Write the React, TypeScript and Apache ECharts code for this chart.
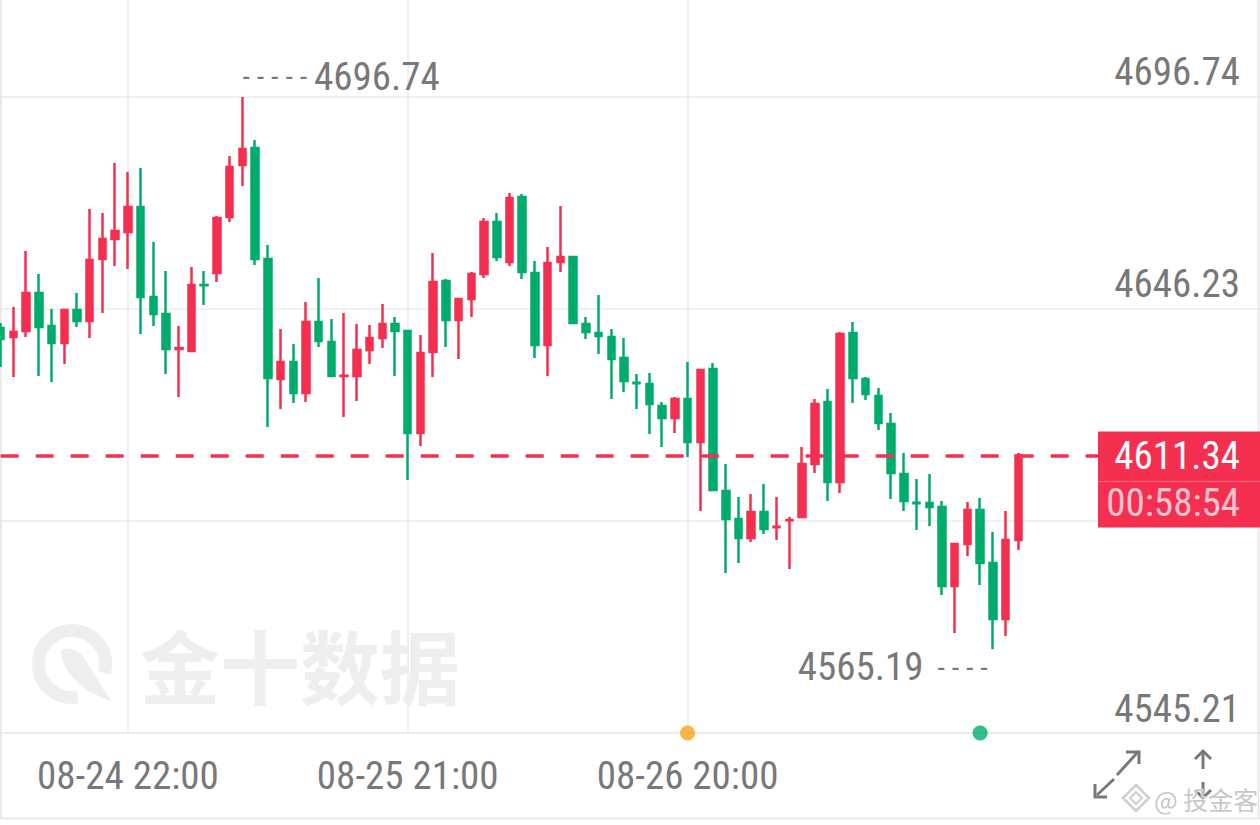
import React, { useEffect, useRef } from "react";
import * as echarts from "echarts";

// ---------- data ----------
const categories: string[] = [
  "08-24 12:00", "08-24 13:00", "08-24 14:00", "08-24 15:00", "08-24 16:00", "08-24 17:00",
  "08-24 18:00", "08-24 19:00", "08-24 20:00", "08-24 21:00", "08-24 22:00", "08-24 23:00",
  "08-25 00:00", "08-25 01:00", "08-25 02:00", "08-25 03:00", "08-25 04:00",
  "08-25 06:00", "08-25 07:00", "08-25 08:00", "08-25 09:00", "08-25 10:00", "08-25 11:00",
  "08-25 12:00", "08-25 13:00", "08-25 14:00", "08-25 15:00", "08-25 16:00", "08-25 17:00",
  "08-25 18:00", "08-25 19:00", "08-25 20:00", "08-25 21:00", "08-25 22:00", "08-25 23:00",
  "08-26 00:00", "08-26 01:00", "08-26 02:00", "08-26 03:00", "08-26 04:00",
  "08-26 06:00", "08-26 07:00", "08-26 08:00", "08-26 09:00", "08-26 10:00", "08-26 11:00",
  "08-26 12:00", "08-26 13:00", "08-26 14:00", "08-26 15:00", "08-26 16:00", "08-26 17:00",
  "08-26 18:00", "08-26 19:00", "08-26 20:00", "08-26 21:00", "08-26 22:00", "08-26 23:00",
  "08-27 00:00", "08-27 01:00", "08-27 02:00", "08-27 03:00", "08-27 04:00",
  "08-27 06:00", "08-27 07:00", "08-27 08:00", "08-27 09:00", "08-27 10:00", "08-27 11:00",
  "08-27 12:00", "08-27 13:00", "08-27 14:00", "08-27 15:00", "08-27 16:00", "08-27 17:00",
  "08-27 18:00", "08-27 19:00", "08-27 20:00", "08-27 21:00", "08-27 22:00", "08-27 23:00",
];

// [open, close, low, high]
const opens: number[] = [
  4641.70, 4639.56, 4640.99, 4650.04, 4642.18, 4638.13, 4645.99, 4643.37, 4658.14, 4662.91,
  4664.58, 4670.53, 4649.09, 4645.04, 4636.70, 4636.22, 4651.95, 4654.81, 4668.15, 4680.54,
  4684.59, 4658.14, 4629.55, 4633.60, 4626.22, 4643.13, 4638.37, 4630.27, 4630.27, 4636.46,
  4639.32, 4642.66, 4640.99, 4616.69, 4635.98, 4652.90, 4643.61, 4648.61, 4654.57, 4666.96,
  4657.43, 4672.91, 4654.81, 4637.65, 4657.43, 4658.62, 4642.66, 4640.51, 4639.56, 4634.56,
  4628.65, 4628.36, 4623.12, 4620.26, 4624.79, 4614.54, 4631.93, 4602.87, 4596.20, 4591.67,
  4597.86, 4594.25, 4595.90, 4596.67, 4609.30, 4624.07, 4605.01, 4640.51, 4629.55, 4625.50,
  4618.83, 4606.92, 4600.05, 4600.01, 4599.06, 4580.23, 4590.24, 4598.34, 4585.71, 4572.37,
  4591.19,
];
const closes: number[] = [
  4639.08, 4640.75, 4650.04, 4641.94, 4638.13, 4645.99, 4643.37, 4657.90, 4662.91, 4664.81,
  4670.53, 4649.09, 4645.04, 4636.70, 4636.94, 4651.95, 4651.90, 4667.91, 4680.06, 4684.35,
  4658.14, 4629.79, 4633.60, 4626.22, 4643.13, 4638.61, 4630.27, 4630.35, 4636.46, 4639.32,
  4642.66, 4640.99, 4616.69, 4635.75, 4652.66, 4643.61, 4648.61, 4654.57, 4666.96, 4658.62,
  4672.68, 4655.04, 4637.65, 4657.19, 4658.62, 4642.89, 4640.75, 4639.80, 4634.32, 4629.08,
  4628.55, 4623.60, 4620.26, 4624.79, 4614.54, 4631.70, 4603.11, 4596.20, 4591.67, 4597.86,
  4593.81, 4594.33, 4595.96, 4609.30, 4623.60, 4605.01, 4640.27, 4629.79, 4625.98, 4619.07,
  4607.16, 4600.48, 4599.97, 4599.06, 4580.23, 4590.24, 4598.34, 4585.71, 4572.37, 4591.19,
  4611.34,
];
const lows: number[] = [
  4632.41, 4630.03, 4639.56, 4630.27, 4628.84, 4633.13, 4641.94, 4639.32, 4645.28, 4656.47,
  4655.76, 4640.27, 4642.18, 4630.74, 4625.26, 4635.98, 4647.18, 4652.66, 4666.96, 4675.53,
  4656.71, 4618.12, 4622.40, 4623.83, 4624.07, 4637.18, 4630.03, 4620.50, 4624.31, 4633.13,
  4636.94, 4630.27, 4605.49, 4613.59, 4630.03, 4637.18, 4634.32, 4644.32, 4653.62, 4657.67,
  4656.47, 4653.38, 4634.56, 4630.27, 4655.04, 4642.80, 4639.08, 4635.51, 4624.79, 4626.45,
  4622.40, 4616.45, 4613.35, 4616.69, 4610.97, 4598.10, 4603.00, 4583.33, 4585.71, 4590.72,
  4592.62, 4591.19, 4584.28, 4596.60, 4607.16, 4600.48, 4602.39, 4623.83, 4624.55, 4617.40,
  4600.96, 4598.10, 4593.58, 4594.53, 4578.09, 4569.04, 4587.38, 4580.47, 4565.19, 4568.32,
  4588.81,
];
const highs: number[] = [
  4642.89, 4646.71, 4660.05, 4654.57, 4646.23, 4646.10, 4650.04, 4670.06, 4669.10, 4681.01,
  4678.87, 4679.82, 4662.19, 4655.28, 4642.18, 4656.24, 4655.28, 4668.39, 4682.68, 4696.74,
  4686.49, 4661.48, 4641.46, 4637.89, 4647.90, 4653.62, 4643.85, 4645.28, 4642.66, 4642.42,
  4647.42, 4644.32, 4641.23, 4640.04, 4659.57, 4653.38, 4648.70, 4655.04, 4667.91, 4669.10,
  4673.87, 4673.63, 4657.67, 4661.00, 4670.77, 4658.86, 4644.32, 4649.57, 4641.46, 4639.32,
  4630.74, 4630.98, 4624.07, 4625.26, 4633.60, 4631.93, 4633.36, 4609.30, 4601.44, 4602.15,
  4604.54, 4601.44, 4596.67, 4613.35, 4624.79, 4627.17, 4640.75, 4643.13, 4630.03, 4627.41,
  4621.45, 4611.92, 4605.73, 4606.92, 4600.48, 4590.48, 4600.25, 4601.20, 4593.10, 4598.10,
  4611.90,
];

const yTicksMin = 4545.21;
const yTickStep = 50.51;
const yAxisMax = 4719.85;
const shownTimeLabels: string[] = ["08-24 22:00", "08-25 21:00", "08-26 20:00"];
const countdownText = "00:58:54";
const events = [
  { time: "08-26 20:00", color: "#f7a21b" },
  { time: "08-27 20:00", color: "#00ac6c" },
];

// ---------- style ----------
const RED = "#f52f50";
const GREEN = "#00ac6c";
const GREY = "#787878";
const GRID = "#ebebeb";
const NUM_FONT = "'Liberation Sans Narrow', 'Roboto Condensed', Roboto, sans-serif";
const NUM_SIZE = 39;

const lastPrice = closes[closes.length - 1];

echarts.graphic.registerShape(
  "jinLeaf",
  echarts.graphic.extendPath(
    "M0 0 C6 -4 16 0 22 8 L50 52 L28 42 C18 36 6 24 2 14 C0 8 -2 3 0 0 Z",
    {}
  )
);

const richStyles = {
  d: { fontSize: 30, fontFamily: NUM_FONT, color: GREY },
  n: { fontSize: NUM_SIZE, fontFamily: NUM_FONT, color: GREY },
};

export default function App() {
  const ref = useRef<HTMLDivElement>(null);
  useEffect(() => {
    if (!ref.current) return;
    const chart = echarts.init(ref.current, undefined, { renderer: "svg" });
    const candleData = opens.map((o, i) => [o, closes[i], lows[i], highs[i]]);

    const staticGraphics: any[] = [
      // frame
      {
        type: "polyline",
        z: 1,
        silent: true,
        shape: { points: [[1, -2], [1, 818.5], [1258.5, 818.5], [1258.5, -2]] },
        style: { stroke: "#e4e4e4", lineWidth: 1.5, fill: null },
      },
      // 金十数据 watermark
      {
        type: "arc",
        z: 0,
        silent: true,
        shape: { cx: 72, cy: 664, r: 33.5, startAngle: (80 * Math.PI) / 180, endAngle: (375 * Math.PI) / 180, clockwise: true },
        style: { stroke: "#eeeeee", lineWidth: 13, fill: null },
      },
      {
        type: "jinLeaf",
        z: 0,
        silent: true,
        x: 62,
        y: 650,
        style: { fill: "#eeeeee" },
      },
      {
        type: "text",
        z: 0,
        silent: true,
        x: 140,
        y: 663,
        style: {
          text: "金十数据",
          fill: "#eeeeee",
          fontFamily: "Noto Sans CJK SC",
          fontWeight: "bold",
          fontSize: 80,
          verticalAlign: "middle",
          align: "left",
        },
      },
      // expand icon
      { type: "line", silent: true, shape: { x1: 1117, y1: 775, x2: 1137, y2: 753 }, style: { stroke: GREY, lineWidth: 3 } },
      { type: "polyline", silent: true, shape: { points: [[1126, 752], [1139, 752], [1139, 764]] }, style: { stroke: GREY, lineWidth: 3, fill: null } },
      { type: "line", silent: true, shape: { x1: 1114, y1: 779, x2: 1097, y2: 795 }, style: { stroke: GREY, lineWidth: 3 } },
      { type: "polyline", silent: true, shape: { points: [[1095, 784], [1095, 797], [1107, 797]] }, style: { stroke: GREY, lineWidth: 3, fill: null } },
      // up/down arrows
      { type: "line", silent: true, shape: { x1: 1203, y1: 752, x2: 1203, y2: 769 }, style: { stroke: GREY, lineWidth: 3 } },
      { type: "polyline", silent: true, shape: { points: [[1195, 759], [1203, 751], [1211, 759]] }, style: { stroke: GREY, lineWidth: 3, fill: null } },
      { type: "line", silent: true, shape: { x1: 1203, y1: 782, x2: 1203, y2: 798 }, style: { stroke: GREY, lineWidth: 3 } },
      { type: "polyline", silent: true, shape: { points: [[1195, 790], [1203, 798], [1211, 790]] }, style: { stroke: GREY, lineWidth: 3, fill: null } },
      // 投金客 watermark
      {
        type: "polygon",
        silent: true,
        z: 5,
        shape: { points: [[1136, 785], [1149, 798], [1136, 811], [1123, 798]] },
        style: { stroke: "#cfcfcf", lineWidth: 2.5, fill: "rgba(255,255,255,0.6)" },
      },
      {
        type: "polygon",
        silent: true,
        z: 5,
        shape: { points: [[1136, 792], [1142, 798], [1136, 804], [1130, 798]] },
        style: { stroke: "#cfcfcf", lineWidth: 2, fill: null },
      },
      {
        type: "text",
        silent: true,
        z: 5,
        x: 1154,
        y: 799,
        style: {
          text: "@ 投金客",
          fill: "#c8c8c8",
          stroke: "rgba(255,255,255,0.8)",
          lineWidth: 1,
          fontFamily: "Noto Sans CJK SC",
          fontSize: 25,
          verticalAlign: "middle",
          align: "left",
        },
      },
    ];

    const option: any = {
      animation: false,
      backgroundColor: "#ffffff",
      grid: { left: 0.7, right: 0, top: 0, bottom: 92, containLabel: false },
      xAxis: {
        type: "category",
        data: categories,
        boundaryGap: false,
        max: 99,
        axisLine: { show: true, lineStyle: { color: GRID, width: 1.5 } },
        axisTick: { show: false },
        axisLabel: {
          interval: (_i: number, v: string) => shownTimeLabels.includes(v),
          color: GREY,
          fontFamily: NUM_FONT,
          fontSize: NUM_SIZE,
          margin: 23,
        },
        splitLine: {
          show: true,
          interval: (_i: number, v: string) => shownTimeLabels.includes(v),
          lineStyle: { color: GRID, width: 1.5 },
        },
      },
      yAxis: {
        type: "value",
        position: "right",
        min: yTicksMin,
        max: yAxisMax,
        interval: yTickStep,
        scale: true,
        axisLine: { show: false },
        axisTick: { show: false },
        splitLine: { show: true, showMaxLine: false, lineStyle: { color: GRID, width: 1.5 } },
        axisLabel: {
          inside: true,
          margin: 20,
          color: GREY,
          fontFamily: NUM_FONT,
          fontSize: NUM_SIZE,
          verticalAlign: "bottom",
          padding: [0, 0, 5, 0],
          showMaxLabel: false,
          formatter: (v: number) => (Math.abs(v - lastPrice) < 20 ? "" : v.toFixed(2)),
        },
      },
      series: [
        {
          type: "candlestick",
          data: candleData,
          barWidth: 7,
          itemStyle: {
            color: RED,
            color0: GREEN,
            borderColor: RED,
            borderColor0: GREEN,
            borderWidth: 2.5,
          },
          markLine: {
            silent: true,
            symbol: ["none", "none"],
            label: { show: false },
            lineStyle: { color: RED, type: [18, 17], width: 3.5 },
            data: [{ yAxis: lastPrice }],
          },
          markPoint: {
            silent: true,
            symbol: "circle",
            symbolSize: 0.1,
            itemStyle: { color: "rgba(0,0,0,0)" },
            label: { show: true, color: GREY, fontFamily: NUM_FONT, fontSize: NUM_SIZE, rich: richStyles },
            data: [
              {
                type: "max",
                valueDim: "highest",
                label: {
                  position: "right",
                  distance: 0,
                  offset: [0, -20],
                  formatter: (p: any) => "{d|- - - - - }{n|" + Number(p.value).toFixed(2) + "}",
                  rich: richStyles,
                },
              },
              {
                type: "min",
                valueDim: "lowest",
                label: {
                  position: "left",
                  distance: 5,
                  offset: [0, 18],
                  formatter: (p: any) => "{n|" + Number(p.value).toFixed(2) + "}{d|  - - - -}",
                  rich: richStyles,
                },
              },
            ],
          },
        },
        {
          type: "scatter",
          clip: false,
          symbolSize: 15,
          silent: true,
          z: 5,
          data: events.map((e) => ({ value: [e.time, yTicksMin], itemStyle: { color: e.color } })),
        },
      ],
      graphic: staticGraphics,
    };

    chart.setOption(option);

    const py = chart.convertToPixel({ yAxisIndex: 0 }, lastPrice) as number;
    const boxX = 1098;
    const priceBox: any[] = [
      {
        type: "rect",
        z: 100,
        silent: true,
        shape: { x: boxX, y: py - 24, width: 162, height: 96 },
        style: { fill: RED },
      },
      {
        type: "line",
        z: 101,
        silent: true,
        shape: { x1: boxX, y1: py + 26, x2: 1260, y2: py + 26 },
        style: { stroke: "rgba(255,255,255,0.3)", lineWidth: 1 },
      },
      {
        type: "text",
        z: 102,
        silent: true,
        x: 1240,
        y: py + 1,
        style: {
          text: lastPrice.toFixed(2),
          fill: "#ffffff",
          fontFamily: NUM_FONT,
          fontSize: NUM_SIZE,
          align: "right",
          verticalAlign: "middle",
        },
      },
      {
        type: "text",
        z: 102,
        silent: true,
        x: 1240,
        y: py + 48,
        style: {
          text: countdownText,
          fill: "#ffc6d0",
          fontFamily: NUM_FONT,
          fontSize: NUM_SIZE,
          align: "right",
          verticalAlign: "middle",
        },
      },
    ];
    chart.setOption({ graphic: [...staticGraphics, ...priceBox] });

    return () => chart.dispose();
  }, []);

  return (
    <div
      ref={ref}
      style={{ position: "fixed", left: 0, top: 0, width: 1260, height: 825, background: "#fff" }}
    />
  );
}
